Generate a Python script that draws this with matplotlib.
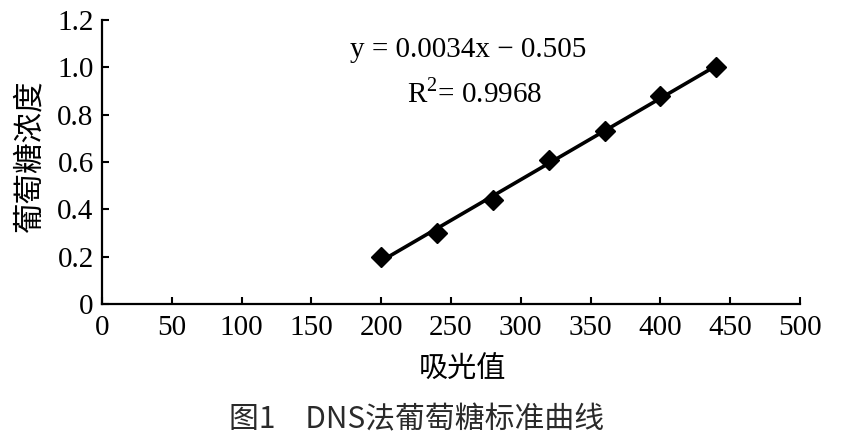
import numpy as np
import matplotlib
matplotlib.use("Agg")
import matplotlib.pyplot as plt

absorbance = [200, 240, 280, 320, 360, 400, 440]
glucose = [0.20, 0.30, 0.44, 0.61, 0.73, 0.88, 1.00]
x_ticks = [0, 50, 100, 150, 200, 250, 300, 350, 400, 450, 500]
y_ticks = [0, 0.2, 0.4, 0.6, 0.8, 1.0, 1.2]
y_tick_labels = ["0", "0.2", "0.4", "0.6", "0.8", "1.0", "1.2"]
equation = "y = 0.0034x \u2212 0.505"
r2_text = "R$^{2}$= 0.9968"
x_label = "吸光值"
y_label = "葡萄糖浓度"
caption = "图1\u3000DNS法葡萄糖标准曲线"

serif = ["Liberation Serif", "DejaVu Serif"]
cjk = ["Noto Sans CJK SC", "DejaVu Sans"]
plt.rcParams["font.family"] = serif
plt.rcParams["mathtext.fontset"] = "custom"
plt.rcParams["mathtext.rm"] = "Liberation Serif"

fig = plt.figure(figsize=(8.54, 4.37), dpi=100)
ax = fig.add_axes([0.1194, 0.3043, 0.8174, 0.6499])

coef = np.polyfit(absorbance, glucose, 1)
xs = np.array([absorbance[0], absorbance[-1]])
ax.plot(xs, np.polyval(coef, xs), color="black", lw=2.6, zorder=2, solid_capstyle="butt")
ax.plot(absorbance, glucose, linestyle="none", marker="D", markersize=10,
        color="black", zorder=3)

ax.set_xlim(0, 500)
ax.set_ylim(0, 1.2)
ax.set_xticks(x_ticks)
ax.set_yticks(y_ticks, y_tick_labels)
ax.tick_params(direction="in", length=5, width=1.5, pad=6, colors="black", labelsize=21)
ax.tick_params(axis="x", pad=8)
for s in ["top", "right"]:
    ax.spines[s].set_visible(False)
for s in ["left", "bottom"]:
    ax.spines[s].set_linewidth(1.6)

ax.text(0.524, 0.894, equation, transform=ax.transAxes, ha="center", va="center",
        fontsize=21)
ax.text(0.534, 0.743, r2_text, transform=ax.transAxes, ha="center", va="center",
        fontsize=21)

ax.set_xlabel(x_label, fontsize=21, family=cjk, va="center", ha="center")
ax.xaxis.set_label_coords(0.516, -0.232)
ax.set_ylabel(y_label, fontsize=22, family=cjk, va="center", ha="center")
ax.yaxis.set_label_coords(-0.103, 0.518)

fig.text(0.488, 0.04, caption, ha="center", va="center", fontsize=21.5,
         family=cjk, color="#2a2a2a", fontweight="medium")

fig.savefig("out.png", dpi=100)
